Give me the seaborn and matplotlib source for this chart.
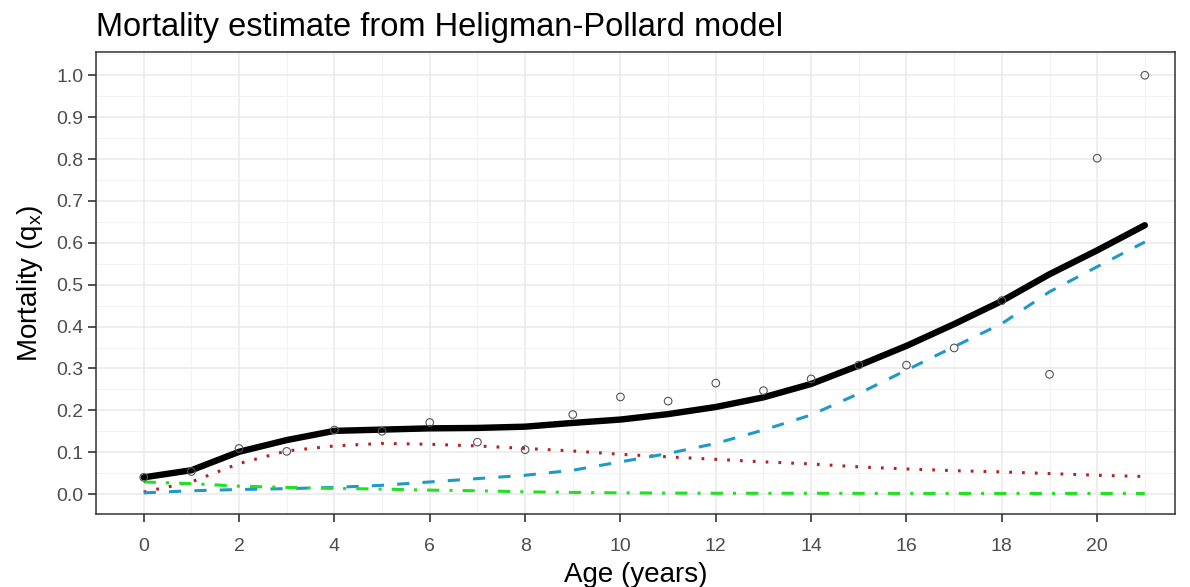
import numpy as np
import pandas as pd
import matplotlib
matplotlib.use('Agg')
import matplotlib.pyplot as plt
from matplotlib.ticker import MultipleLocator
import seaborn as sns

# observed and fitted mortality by age
age = list(range(0, 22))
qx_obs = [0.040, 0.054, 0.109, 0.102, 0.153, 0.150, 0.171, 0.124, 0.106, 0.190, 0.232,
          0.222, 0.265, 0.247, 0.275, 0.308, 0.308, 0.349, 0.462, 0.286, 0.802, 1.000]
qx_fit = [0.040, 0.057, 0.101, 0.129, 0.151, 0.154, 0.157, 0.158, 0.161, 0.170, 0.178,
          0.191, 0.208, 0.231, 0.263, 0.307, 0.354, 0.406, 0.461, 0.525, 0.582, 0.642]
qx_child = [0.005, 0.029, 0.073, 0.103, 0.115, 0.121, 0.119, 0.115, 0.109, 0.103, 0.095,
            0.089, 0.083, 0.077, 0.072, 0.065, 0.060, 0.056, 0.053, 0.049, 0.045, 0.042]
qx_senes = [0.003, 0.008, 0.011, 0.013, 0.016, 0.021, 0.029, 0.037, 0.045, 0.057, 0.077,
            0.097, 0.121, 0.153, 0.189, 0.240, 0.296, 0.352, 0.407, 0.483, 0.543, 0.602]
qx_infant = [0.029, 0.025, 0.019, 0.016, 0.0135, 0.012, 0.0095, 0.008, 0.0055, 0.004, 0.003,
             0.0025, 0.002, 0.002, 0.002, 0.0018, 0.0017, 0.0016, 0.0016, 0.0016, 0.0016, 0.0016]

df = pd.DataFrame({'age': age, 'obs': qx_obs, 'fit': qx_fit, 'child': qx_child,
                   'senes': qx_senes, 'infant': qx_infant})

sns.set_theme(style='whitegrid')
plt.rcParams['font.family'] = ['Liberation Sans', 'DejaVu Sans']
plt.rcParams['mathtext.fontset'] = 'custom'
plt.rcParams['mathtext.rm'] = 'Liberation Sans'
plt.rcParams['mathtext.it'] = 'Liberation Sans'

fig = plt.figure(figsize=(11.9, 5.87), dpi=100)
ax = fig.add_axes([0.0807, 0.124, 0.907, 0.787])

sns.lineplot(data=df, x='age', y='fit', ax=ax, color='black', lw=4.6)
sns.lineplot(data=df, x='age', y='child', ax=ax, color='#B22222', lw=2.2,
             linestyle=(0, (0.9, 3.3)), dash_capstyle='butt')
sns.lineplot(data=df, x='age', y='senes', ax=ax, color='#1E9AC8', lw=2.2,
             linestyle=(0, (4, 4.3)))
sns.lineplot(data=df, x='age', y='infant', ax=ax, color='#22E022', lw=2.2,
             linestyle=(0, (4, 3.3, 1, 3.3)))
sns.scatterplot(data=df, x='age', y='obs', ax=ax, marker='o', s=30,
                facecolor='none', edgecolor='#555555', linewidth=0.8, zorder=5)

ax.set_xlim(-1.0, 21.64)
ax.set_ylim(-0.048, 1.055)
ax.xaxis.set_minor_locator(MultipleLocator(1))
ax.yaxis.set_minor_locator(MultipleLocator(0.05))
ax.set_xticks(range(0, 21, 2))
ax.set_xticklabels([str(v) for v in range(0, 21, 2)])
ax.set_yticks(np.round(np.arange(0, 1.01, 0.1), 1))
ax.set_yticklabels([f'{v:.1f}' for v in np.arange(0, 1.01, 0.1)])

ax.grid(which='major', color='#EBEBEB', linewidth=1.2)
ax.grid(which='minor', color='#F2F2F2', linewidth=0.7)
ax.set_facecolor('white')
for s in ax.spines.values():
    s.set_color('#333333')
    s.set_linewidth(1.1)
ax.tick_params(axis='both', which='major', length=6, width=1.2, color='#333333',
               labelsize=14, labelcolor='#4D4D4D', bottom=True, left=True, pad=3)
ax.tick_params(axis='x', pad=11)
ax.tick_params(which='minor', length=0)

ax.set_xlabel('Age (years)', fontsize=20, color='black', labelpad=5)
ax.set_ylabel(r'Mortality (q$_x$)', fontsize=20, color='black', labelpad=8)
ax.set_title('Mortality estimate from Heligman-Pollard model', fontsize=23.5,
             loc='left', x=0.0, pad=12, color='black')

fig.savefig('out.png', dpi=100)
